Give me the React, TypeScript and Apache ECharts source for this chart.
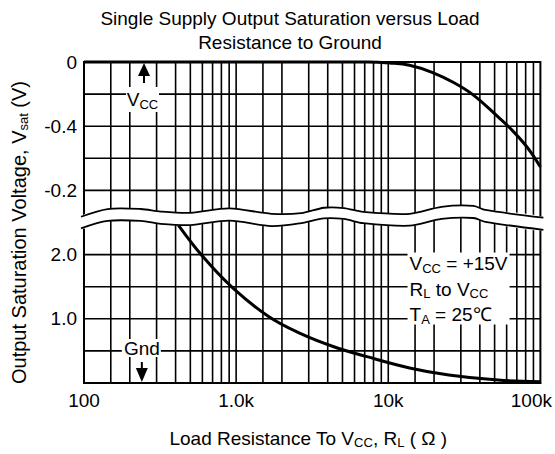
import React, { useEffect, useRef } from 'react';
import * as echarts from 'echarts';

const FONT = '"Liberation Sans", Arial, Helvetica, sans-serif';

// Axis ticks
const xTickValues = [100, 1000, 10000, 100000];
const xTickLabels = ['100', '1.0k', '10k', '100k'];
const yTickValues = [10, 8, 6, 4, 2];
const yTickLabels = ['0', '-0.4', '-0.2', '2.0', '1.0'];

// Grid lines (resistance in ohms, y in chart units)
const xGridValues = [150, 200, 300, 400, 500, 600, 700, 800, 900, 1000, 1500, 2000, 3000, 4000, 5000, 6000, 7000, 8000, 9000, 10000, 15000, 20000, 30000, 40000, 50000, 60000, 70000, 80000, 90000];
const yGridValues = [1, 2, 3, 4, 6, 7, 8, 9];

// Output high side (referenced to Vcc), chart units
const vccSideR = [100, 1000, 5000, 7270, 10200, 13800, 19400, 26900, 36300, 52700, 63800, 82300, 100000];
const vccSideV = [10, 10, 10, 10, 9.97, 9.9, 9.68, 9.36, 8.97, 8.29, 7.92, 7.33, 6.73];

// Output low side (referenced to ground), chart units
const gndSideR = [417, 606, 946, 1634, 2680, 4385, 7240, 13800, 25000, 52600, 100000];
const gndSideV = [4.92, 3.93, 2.97, 2.07, 1.53, 1.13, 0.82, 0.47, 0.25, 0.09, 0.04];

// Axis break band
const breakR = [100, 143, 237, 319, 499, 902, 1710, 2680, 3780, 5110, 6840, 13800, 22400, 36300, 43400, 100000];
const breakUpper = [5.18, 5.42, 5.42, 5.34, 5.30, 5.44, 5.27, 5.29, 5.46, 5.45, 5.33, 5.27, 5.49, 5.52, 5.39, 5.15];
const breakLower = [4.82, 5.05, 5.05, 4.96, 4.92, 5.06, 4.89, 4.98, 5.13, 5.11, 4.98, 4.90, 5.11, 5.14, 5.02, 4.77];

// Annotation anchors (data coordinates)
const vccArrowAt = [248, 10];
const gndArrowAt = [240, 0];
const conditionsAt = [13800, 4];
const conditionLines = ['V{sub|CC} = +15V', 'R{sub|L} to V{sub|CC}', 'T{sub|A} = 25℃'];

const subRich = { fontSize: 13, lineHeight: 14, verticalAlign: 'bottom', fontFamily: FONT, color: '#000' };
const subRichZr = { fontSize: 13, lineHeight: 14, verticalAlign: 'bottom', fontFamily: FONT, fill: '#000' };

function textEl(text: string, x: number, y: number, align: string) {
  return {
    type: 'text',
    style: {
      text, x, y, align, verticalAlign: 'middle',
      fontSize: 19, fontFamily: FONT, fill: '#000', lineHeight: 22,
      rich: { sub: subRichZr },
    },
  };
}

function buildOption() {
  return {
    animation: false,
    backgroundColor: '#fff',
    graphic: [
      {
        type: 'text',
        x: 290,
        y: 6,
        style: {
          text: 'Single Supply Output Saturation versus Load\nResistance to Ground',
          align: 'center',
          fontSize: 19,
          lineHeight: 24,
          fontFamily: FONT,
          fill: '#000',
        },
      },
    ],
    grid: { left: 79, right: 12, top: 62, bottom: 71, show: true, borderColor: '#000', borderWidth: 2, backgroundColor: 'transparent' },
    xAxis: {
      type: 'log',
      logBase: 10,
      min: 100,
      max: 100000,
      axisLine: { show: true, lineStyle: { color: '#000', width: 2 } },
      axisTick: { show: false },
      splitLine: { show: false },
      axisLabel: {
        margin: 8,
        fontSize: 19,
        fontFamily: FONT,
        color: '#000',
        formatter: (v: number) => {
          const i = xTickValues.findIndex((t) => Math.abs(t - v) / t < 1e-6);
          if (i < 0) return '';
          return i === xTickValues.length - 1 ? '{last|' + xTickLabels[i] + '}' : xTickLabels[i];
        },
        rich: { last: { fontSize: 19, fontFamily: FONT, color: '#000', padding: [0, 18, 0, 0] } },
      },
      name: 'Load Resistance To V{sub|CC}, R{sub|L} ( Ω )',
      nameLocation: 'middle',
      nameGap: 44,
      nameTextStyle: { fontSize: 19, fontFamily: FONT, color: '#000', lineHeight: 22, padding: [0, 8, 0, 0], rich: { sub: subRich } },
    },
    yAxis: {
      type: 'value',
      min: 0,
      max: 10,
      interval: 1,
      axisLine: { show: true, lineStyle: { color: '#000', width: 2 } },
      axisTick: { show: false },
      splitLine: { show: false },
      axisLabel: {
        margin: 7,
        fontSize: 19,
        fontFamily: FONT,
        color: '#000',
        formatter: (v: number) => {
          const i = yTickValues.indexOf(v);
          return i >= 0 ? yTickLabels[i] : '';
        },
      },
      name: 'Output Saturation Voltage, V{sub|sat} (V)',
      nameLocation: 'middle',
      nameRotate: 90,
      nameGap: 54,
      nameTextStyle: { fontSize: 20, fontFamily: FONT, color: '#000', lineHeight: 22, padding: [0, 20, 0, 0], rich: { sub: subRich } },
    },
    series: [
      {
        type: 'custom',
        name: 'vgrid',
        z: 1,
        silent: true,
        data: xGridValues.map((v) => [v, 0]),
        renderItem: (params: any, api: any) => {
          const x = api.value(0);
          const a = api.coord([x, 0]);
          const b = api.coord([x, 10]);
          return { type: 'line', shape: { x1: a[0], y1: a[1], x2: b[0], y2: b[1] }, style: { stroke: '#000', lineWidth: 1.6 } };
        },
      },
      {
        type: 'custom',
        name: 'hgrid',
        z: 1,
        silent: true,
        data: yGridValues.map((v) => [1000, v]),
        renderItem: (params: any, api: any) => {
          const y = api.value(1);
          const a = api.coord([100, y]);
          const b = api.coord([100000, y]);
          return { type: 'line', shape: { x1: a[0], y1: a[1], x2: b[0], y2: b[1] }, style: { stroke: '#000', lineWidth: 1.6 } };
        },
      },
      {
        type: 'line',
        name: 'Vcc side',
        z: 2,
        clip: false,
        showSymbol: false,
        smooth: 0.4,
        lineStyle: { color: '#000', width: 3 },
        data: vccSideR.map((r, i) => [r, vccSideV[i]]),
      },
      {
        type: 'line',
        name: 'Gnd side',
        z: 2,
        clip: false,
        showSymbol: false,
        smooth: 0.4,
        lineStyle: { color: '#000', width: 3 },
        data: gndSideR.map((r, i) => [r, gndSideV[i]]),
      },
      {
        type: 'custom',
        name: 'break',
        z: 3,
        silent: true,
        data: [[1000, 5]],
        renderItem: (params: any, api: any) => {
          const n = breakR.length;
          const up = breakR.map((r, i) => {
            const p = api.coord([r, breakUpper[i]]);
            return [p[0] + (i === 0 ? -3 : i === n - 1 ? 3 : 0), p[1]];
          });
          const lo = breakR.map((r, i) => {
            const p = api.coord([r, breakLower[i]]);
            return [p[0] + (i === 0 ? -3 : i === n - 1 ? 3 : 0), p[1]];
          });
          const poly = up.concat(lo.slice().reverse());
          return {
            type: 'group',
            children: [
              { type: 'polygon', shape: { points: poly, smooth: 0.3 }, style: { fill: '#fff', stroke: '#fff', lineWidth: 1 } },
              { type: 'polyline', shape: { points: up, smooth: 0.3 }, style: { fill: 'none', stroke: '#000', lineWidth: 1.8 } },
              { type: 'polyline', shape: { points: lo, smooth: 0.3 }, style: { fill: 'none', stroke: '#000', lineWidth: 1.8 } },
            ],
          };
        },
      },
      {
        type: 'custom',
        name: 'notes',
        z: 4,
        silent: true,
        data: [[1000, 5]],
        renderItem: (params: any, api: any) => {
          const v = api.coord(vccArrowAt);
          const g = api.coord(gndArrowAt);
          const c = api.coord(conditionsAt);
          const children: any[] = [];
          // Vcc arrow + label
          children.push({ type: 'polygon', shape: { points: [[v[0], v[1] + 1], [v[0] - 6, v[1] + 14], [v[0] + 6, v[1] + 14]] }, style: { fill: '#000' } });
          children.push({ type: 'line', shape: { x1: v[0], y1: v[1] + 12, x2: v[0], y2: v[1] + 21 }, style: { stroke: '#000', lineWidth: 2 } });
          children.push({ type: 'rect', shape: { x: v[0] - 18, y: v[1] + 25, width: 33, height: 25 }, style: { fill: '#fff' } });
          children.push(textEl('V{sub|CC}', v[0] - 1.5, v[1] + 37.5, 'center'));
          // Gnd arrow + label
          children.push({ type: 'rect', shape: { x: g[0] - 20, y: g[1] - 44, width: 39, height: 18 }, style: { fill: '#fff' } });
          children.push({ type: 'rect', shape: { x: g[0] - 10, y: g[1] - 26, width: 20, height: 25 }, style: { fill: '#fff' } });
          children.push(textEl('Gnd', g[0], g[1] - 35, 'center'));
          children.push({ type: 'line', shape: { x1: g[0], y1: g[1] - 21, x2: g[0], y2: g[1] - 12 }, style: { stroke: '#000', lineWidth: 2 } });
          children.push({ type: 'polygon', shape: { points: [[g[0], g[1] - 1], [g[0] - 6, g[1] - 15], [g[0] + 6, g[1] - 15]] }, style: { fill: '#000' } });
          // Conditions block
          children.push({ type: 'rect', shape: { x: c[0] - 2, y: c[1] - 2, width: 102, height: 72 }, style: { fill: '#fff' } });
          conditionLines.forEach((t, i) => {
            children.push(textEl(t, c[0], c[1] + 9 + i * 25.5, 'left'));
          });
          return { type: 'group', children };
        },
      },
    ],
  };
}

export default function App() {
  const ref = useRef<HTMLDivElement>(null);
  useEffect(() => {
    if (!ref.current) return;
    const chart = echarts.init(ref.current, null, { renderer: 'svg' });
    chart.setOption(buildOption() as any);
    return () => chart.dispose();
  }, []);
  return (
    <div
      ref={ref}
      style={{ position: 'fixed', left: 0, top: 0, width: 555, height: 454, background: '#fff' }}
    />
  );
}
